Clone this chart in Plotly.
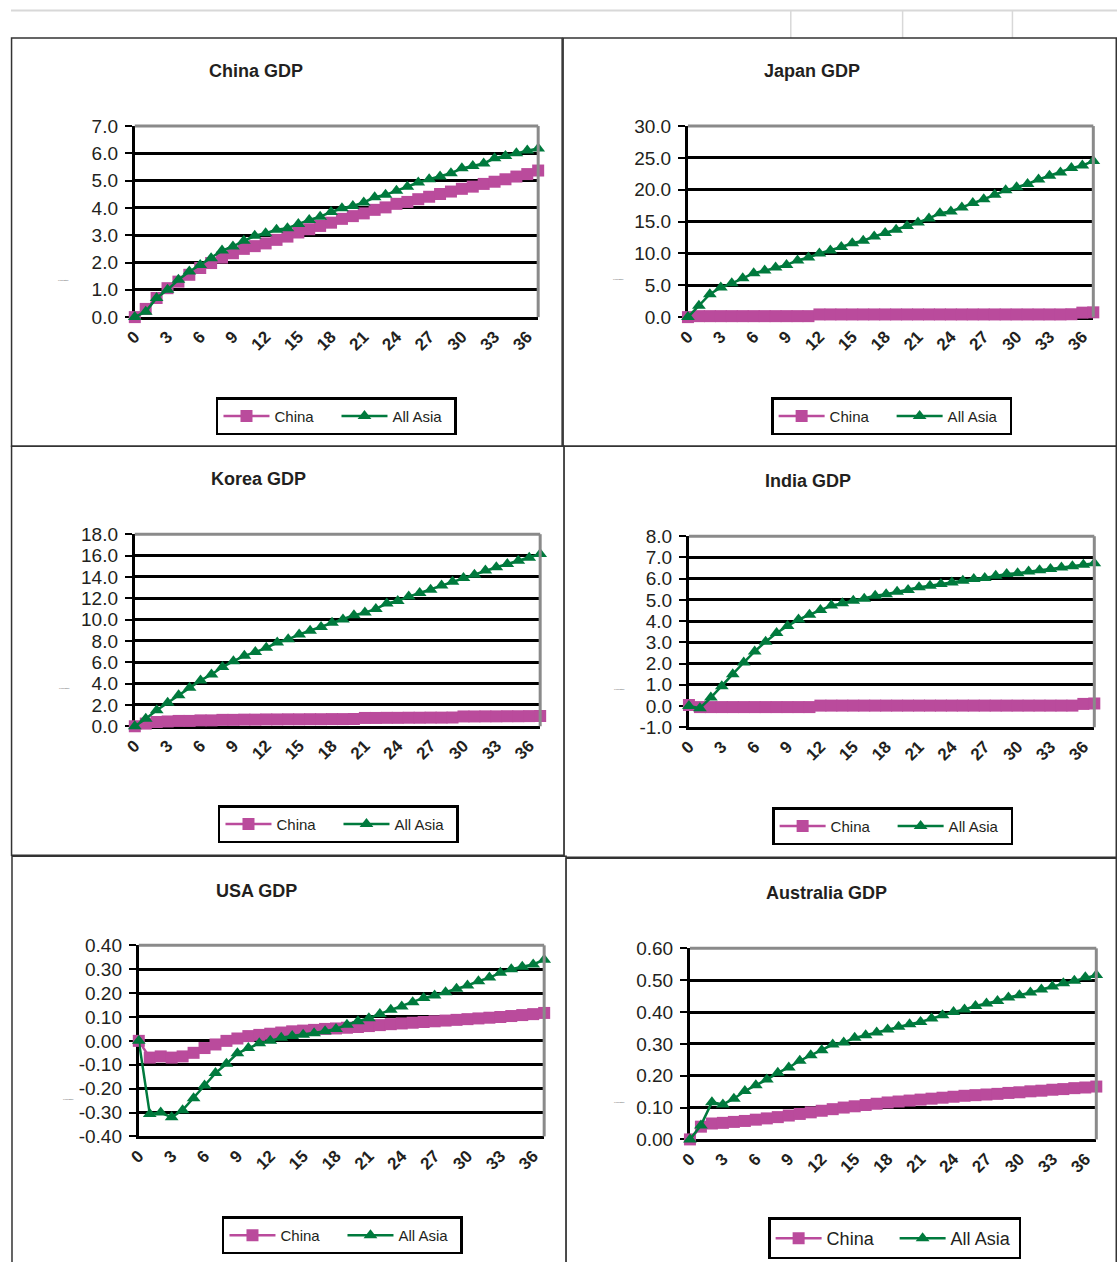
import plotly.graph_objects as go

# ---------------- data ----------------
steps = list(range(38))
x_tick_vals = list(range(0, 37, 3))
x_tick_text = [str(v) for v in x_tick_vals]

china_gdp_china = [0.0, 0.3, 0.7, 1.06, 1.3, 1.55, 1.8, 1.98, 2.18, 2.34, 2.5, 2.6, 2.7, 2.83, 2.95,
                   3.1, 3.22, 3.34, 3.46, 3.6, 3.7, 3.8, 3.93, 4.02, 4.15, 4.22, 4.32, 4.41, 4.51,
                   4.6, 4.7, 4.78, 4.88, 4.96, 5.05, 5.15, 5.24, 5.37]
china_gdp_asia = [0.0, 0.2, 0.7, 1.0, 1.37, 1.67, 1.91, 2.16, 2.44, 2.59, 2.8, 2.98, 3.07, 3.2, 3.26,
                  3.41, 3.56, 3.68, 3.85, 3.99, 4.07, 4.2, 4.39, 4.48, 4.63, 4.78, 4.93, 5.05, 5.15,
                  5.27, 5.45, 5.54, 5.63, 5.82, 5.9, 6.0, 6.1, 6.18]

japan_gdp_china = [0.0, 0.15, 0.15, 0.15, 0.15, 0.15, 0.15, 0.15, 0.15, 0.15, 0.15, 0.15, 0.42, 0.42,
                   0.42, 0.42, 0.42, 0.42, 0.42, 0.42, 0.42, 0.42, 0.42, 0.42, 0.42, 0.42, 0.42, 0.42,
                   0.42, 0.42, 0.42, 0.42, 0.42, 0.42, 0.42, 0.45, 0.7, 0.75]
japan_gdp_asia = [0.0, 1.8, 3.6, 4.65, 5.3, 6.1, 6.9, 7.3, 7.8, 8.2, 8.9, 9.35, 10.0, 10.45, 11.0,
                  11.6, 12.0, 12.65, 13.2, 13.7, 14.3, 14.85, 15.5, 16.3, 16.6, 17.2, 17.9, 18.5,
                  19.2, 19.9, 20.4, 20.9, 21.6, 22.2, 22.7, 23.4, 23.8, 24.5]

korea_gdp_china = [0.0, 0.25, 0.4, 0.45, 0.5, 0.5, 0.55, 0.55, 0.6, 0.6, 0.62, 0.62, 0.64, 0.64, 0.65,
                   0.65, 0.66, 0.66, 0.67, 0.67, 0.68, 0.78, 0.78, 0.79, 0.79, 0.8, 0.8, 0.81, 0.81,
                   0.82, 0.92, 0.92, 0.93, 0.93, 0.94, 0.94, 0.95, 0.96]
korea_gdp_asia = [0.0, 0.7, 1.5, 2.2, 2.9, 3.6, 4.3, 4.85, 5.55, 6.1, 6.6, 6.95, 7.35, 7.85, 8.15,
                  8.6, 8.95, 9.3, 9.7, 10.0, 10.4, 10.65, 11.0, 11.5, 11.75, 12.15, 12.5, 12.8, 13.2,
                  13.55, 13.9, 14.2, 14.6, 14.9, 15.2, 15.5, 15.8, 16.15]

india_gdp_china = [0.05, -0.05, -0.05, -0.05, -0.05, -0.05, -0.05, -0.05, -0.05, -0.05, -0.05, -0.05,
                   0.02, 0.02, 0.02, 0.02, 0.02, 0.02, 0.02, 0.02, 0.02, 0.02, 0.02, 0.02, 0.02, 0.02,
                   0.02, 0.02, 0.02, 0.02, 0.02, 0.02, 0.02, 0.02, 0.02, 0.02, 0.1, 0.12]
india_gdp_asia = [0.0, -0.1, 0.4, 0.93, 1.5, 2.05, 2.57, 3.03, 3.44, 3.77, 4.07, 4.3, 4.52, 4.73,
                  4.84, 4.96, 5.05, 5.2, 5.27, 5.38, 5.46, 5.59, 5.67, 5.75, 5.82, 5.9, 5.98, 6.03,
                  6.14, 6.22, 6.25, 6.34, 6.4, 6.45, 6.53, 6.58, 6.66, 6.73]

usa_gdp_china = [0.0, -0.07, -0.065, -0.07, -0.065, -0.05, -0.03, -0.015, 0.0, 0.01, 0.02, 0.025,
                 0.03, 0.035, 0.04, 0.043, 0.046, 0.05, 0.052, 0.055, 0.058, 0.062, 0.066, 0.07,
                 0.073, 0.076, 0.079, 0.082, 0.085, 0.088, 0.091, 0.094, 0.097, 0.1, 0.104, 0.108,
                 0.112, 0.117]
usa_gdp_asia = [0.0, -0.306, -0.3, -0.32, -0.29, -0.24, -0.187, -0.135, -0.096, -0.052, -0.03, -0.01,
                0.0, 0.013, 0.02, 0.026, 0.032, 0.04, 0.05, 0.068, 0.082, 0.095, 0.113, 0.13, 0.144,
                0.162, 0.18, 0.19, 0.204, 0.218, 0.232, 0.25, 0.265, 0.285, 0.3, 0.31, 0.32, 0.34]

australia_gdp_china = [0.0, 0.04, 0.05, 0.052, 0.055, 0.058, 0.062, 0.066, 0.07, 0.075, 0.08, 0.085,
                       0.09, 0.095, 0.1, 0.104, 0.108, 0.112, 0.116, 0.119, 0.122, 0.125, 0.128, 0.131,
                       0.134, 0.137, 0.139, 0.141, 0.143, 0.146, 0.148, 0.151, 0.153, 0.156, 0.158,
                       0.161, 0.163, 0.166]
australia_gdp_asia = [0.0, 0.044, 0.117, 0.11, 0.128, 0.152, 0.17, 0.188, 0.209, 0.226, 0.247, 0.264,
                      0.28, 0.298, 0.304, 0.319, 0.327, 0.336, 0.345, 0.354, 0.362, 0.369, 0.38, 0.39,
                      0.4, 0.408, 0.419, 0.427, 0.435, 0.446, 0.453, 0.461, 0.471, 0.48, 0.49, 0.498,
                      0.509, 0.516]

titles = ["China GDP", "Japan GDP", "Korea GDP", "India GDP", "USA GDP", "Australia GDP"]
series_names = ["China", "All Asia"]
y_ticks = [
    [0, 1, 2, 3, 4, 5, 6, 7],
    [0, 5, 10, 15, 20, 25, 30],
    [0, 2, 4, 6, 8, 10, 12, 14, 16, 18],
    [-1, 0, 1, 2, 3, 4, 5, 6, 7, 8],
    [-0.4, -0.3, -0.2, -0.1, 0, 0.1, 0.2, 0.3, 0.4],
    [0, 0.1, 0.2, 0.3, 0.4, 0.5, 0.6],
]
y_decimals = [1, 1, 1, 1, 2, 2]
china_values = [china_gdp_china, japan_gdp_china, korea_gdp_china, india_gdp_china,
                usa_gdp_china, australia_gdp_china]
asia_values = [china_gdp_asia, japan_gdp_asia, korea_gdp_asia, india_gdp_asia,
               usa_gdp_asia, australia_gdp_asia]

# ---------------- layout geometry (target pixels) ----------------
W, H = 1117, 1262
SHIFT_X, SCALE_X = 9, 0.9917    # observed placement of the page in the photo
SHIFT_Y, SCALE_Y = 10, 0.983


def px(x, clamp=True):
    v = (x - SHIFT_X) / SCALE_X / W
    return min(max(v, 0.0005), 0.9995) if clamp else v


def py(y, clamp=True):
    v = (y - SHIFT_Y) / SCALE_Y / H
    if clamp:
        v = min(max(v, 0.0005), 0.9995)
    return 1 - v


plot_boxes = [  # left, top, right, bottom
    (133, 126, 537, 317),
    (687, 126, 1093, 317),
    (133, 534, 539, 726),
    (688, 536, 1094, 727),
    (137, 945, 543, 1136),
    (689, 948, 1096, 1139),
]
frames = [
    (6, 38, 561, 446),
    (562, 38, 1116, 446),
    (8, 446, 563, 855),
    (563, 446, 1116, 857),
    (10, 856, 565, 1290),
    (565, 858, 1116, 1290),
]
title_pos = [(254, 71), (811, 71), (257, 479), (807, 481), (255, 891), (826, 893)]
legend_pos = [(335, 416), (891, 416), (337, 824), (892, 826), (341, 1235), (894, 1238)]
legend_font = [15, 15, 15, 15, 15, 18]
legend_entry = [57, 57, 57, 57, 57, 63]
axis_title_pos = [(61, 280), (617, 279), (62, 688), (618, 689), (66, 1099), (618, 1102)]

PINK = "#BA4B9C"
GREEN = "#007A3D"
FONT = "Arial, 'Liberation Sans', sans-serif"
TXT = "#231F20"

fig = go.Figure()
layout = dict(
    width=W, height=H, margin=dict(l=0, r=0, t=0, b=0),
    paper_bgcolor="white", plot_bgcolor="white",
    font=dict(family=FONT, color=TXT),
    showlegend=True,
)
shapes = []
annotations = []

# spreadsheet background lines
shapes.append(dict(type="line", xref="paper", yref="paper", x0=0, x1=1, y0=py(9), y1=py(9),
                   line=dict(color="#d8d8d8", width=2), layer="below"))
for vx in (790, 902, 1012):
    shapes.append(dict(type="line", xref="paper", yref="paper", x0=px(vx), x1=px(vx),
                       y0=py(9), y1=py(38), line=dict(color="#d8d8d8", width=1.5),
                       layer="below"))

for i in range(6):
    fx0, fy0, fx1, fy1 = frames[i]
    shapes.append(dict(type="rect", xref="paper", yref="paper",
                       x0=px(fx0), x1=px(fx1), y0=py(fy1, clamp=False), y1=py(fy0),
                       line=dict(color="#333333", width=1.5), fillcolor="white", layer="below"))

for i in range(6):
    n = i + 1
    sfx = "" if n == 1 else str(n)
    xa, ya, lg = "x" + sfx, "y" + sfx, "legend" + sfx
    L, T, R, B = plot_boxes[i]

    fig.add_trace(go.Scatter(
        x=steps, y=china_values[i], name=series_names[0], mode="lines+markers",
        line=dict(color=PINK, width=2.5),
        marker=dict(symbol="square", size=12, color=PINK),
        xaxis=xa, yaxis=ya, legend=lg, cliponaxis=False))
    fig.add_trace(go.Scatter(
        x=steps, y=asia_values[i], name=series_names[1], mode="lines+markers",
        line=dict(color=GREEN, width=2.5),
        marker=dict(symbol="triangle-up", size=12, color=GREEN),
        xaxis=xa, yaxis=ya, legend=lg, cliponaxis=False))

    yt = y_ticks[i]
    dec = y_decimals[i]
    layout["xaxis" + sfx] = dict(
        domain=[px(L), px(R)], anchor=ya, range=[0, 37], fixedrange=True,
        tickmode="array", tickvals=x_tick_vals, ticktext=x_tick_text, tickangle=-45,
        tickfont=dict(size=17, family=FONT, weight="bold", color=TXT),
        showgrid=False, zeroline=False, showline=True, linecolor="black", linewidth=3,
        ticks="", layer="below traces")
    layout["yaxis" + sfx] = dict(
        domain=[py(B), py(T)], anchor=xa, range=[yt[0], yt[-1]], fixedrange=True,
        tickmode="array", tickvals=yt, ticktext=[f"{v:.{dec}f}" for v in yt],
        tickfont=dict(size=19, family=FONT, color=TXT), ticklabelstandoff=3,
        showgrid=True, gridcolor="black", gridwidth=2.5, zeroline=False,
        showline=True, linecolor="black", linewidth=3,
        ticks="outside", ticklen=7, tickwidth=2, tickcolor="black", layer="below traces")

    # gray plot-area border (top & right)
    shapes.append(dict(type="line", xref="paper", yref="paper",
                       x0=px(L), x1=px(R), y0=py(T), y1=py(T),
                       line=dict(color="#8a8a8a", width=3), layer="above"))
    shapes.append(dict(type="line", xref="paper", yref="paper",
                       x0=px(R), x1=px(R), y0=py(B), y1=py(T),
                       line=dict(color="#8a8a8a", width=3), layer="above"))

    tx, ty = title_pos[i]
    annotations.append(dict(text="<b>" + titles[i] + "</b>", xref="paper", yref="paper",
                            x=px(tx), y=py(ty), xanchor="center", yanchor="middle",
                            showarrow=False, font=dict(size=18, family=FONT, color=TXT)))
    ax, ay = axis_title_pos[i]
    annotations.append(dict(text="% deviation", xref="paper", yref="paper",
                            x=px(ax), y=py(ay), xanchor="center", yanchor="middle",
                            showarrow=False, font=dict(size=2, family=FONT, color="#444")))

    lx, ly = legend_pos[i]
    layout[lg] = dict(
        x=px(lx), y=py(ly), xanchor="center", yanchor="middle", orientation="h",
        bordercolor="black", borderwidth=2.5, bgcolor="white",
        itemwidth=46, entrywidth=legend_entry[i], entrywidthmode="pixels",
        font=dict(size=legend_font[i], family=FONT, color=TXT),
        itemclick=False, itemdoubleclick=False)

layout["shapes"] = shapes
layout["annotations"] = annotations
fig.update_layout(**layout)

fig.write_html("out.html", config={"displayModeBar": False},
               post_script="document.body.style.margin='0';")
